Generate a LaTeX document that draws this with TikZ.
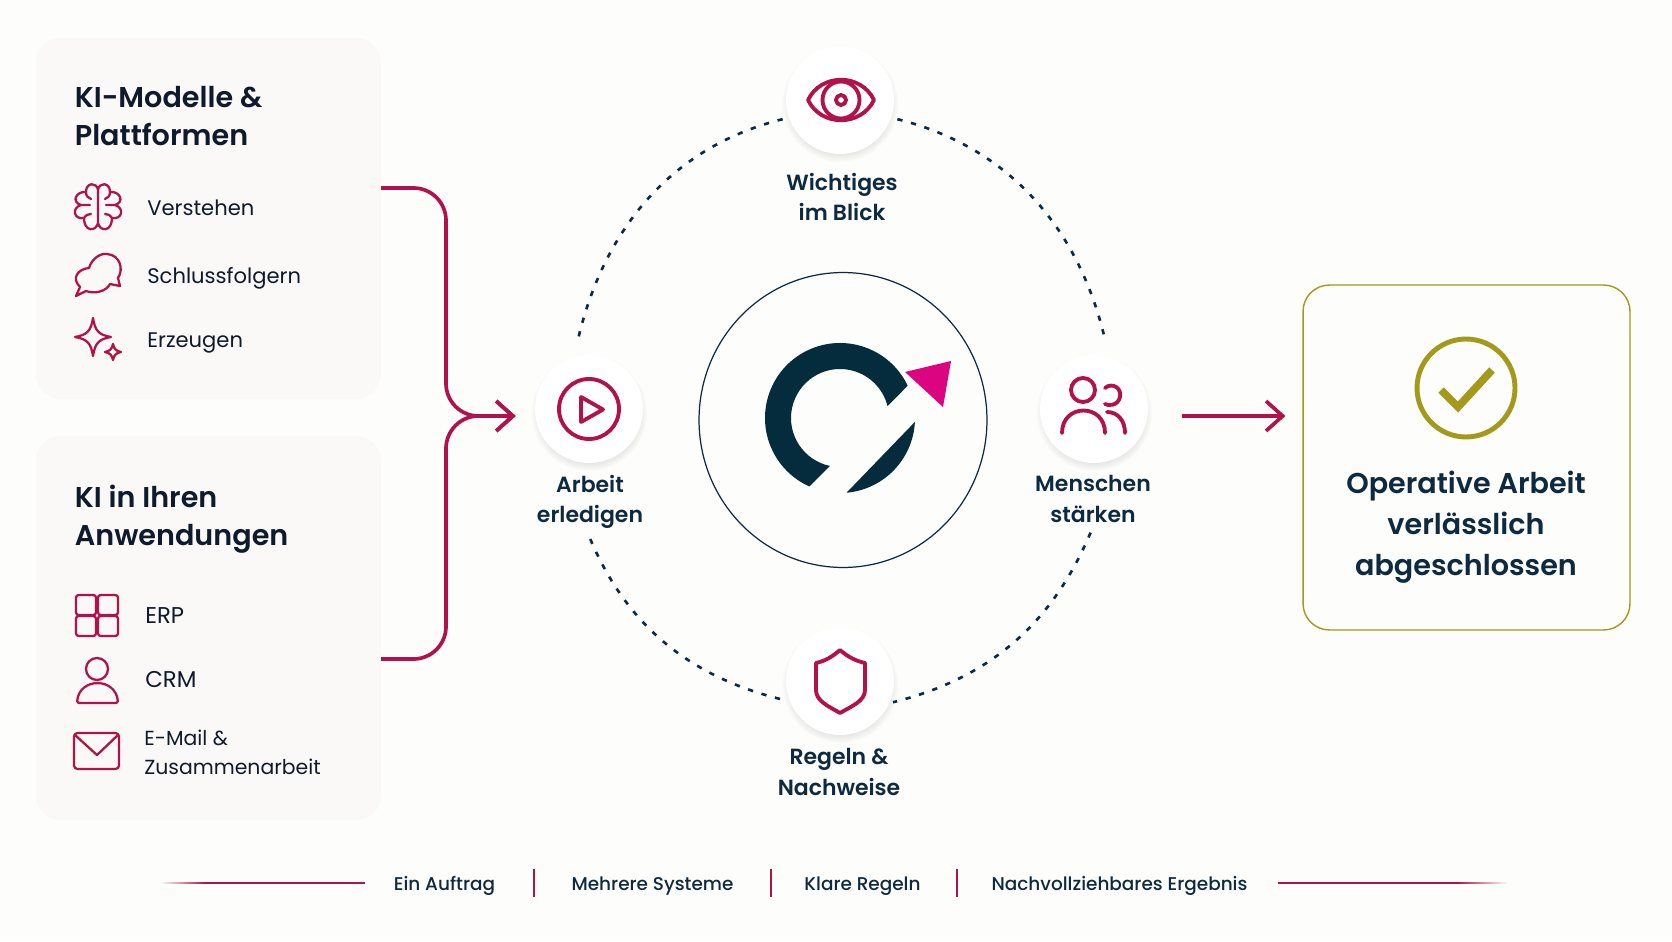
\documentclass[tikz,border=0pt]{standalone}
\usepackage{xcolor}
\usepackage{fontspec}
\usepackage{tikz}
\usetikzlibrary{arrows.meta,shadows,shapes.geometric}
\setmainfont{Poppins}
\newfontfamily\mediumfont{Poppins Medium}
\newfontfamily\strongfont{Poppins SemiBold}
\definecolor{paper}{HTML}{FDFDFC}
\definecolor{panelfill}{HTML}{FAF9F7}
\definecolor{crimson}{HTML}{B2124C}
\definecolor{navy}{HTML}{0E2A40}
\definecolor{ink}{HTML}{0F1B2D}
\definecolor{logoink}{HTML}{042C3C}
\definecolor{logopink}{HTML}{DC0480}
\definecolor{olive}{HTML}{A39A1C}
\pgfdeclarehorizontalshading{fadeleft}{100bp}{color(0bp)=(paper); color(25bp)=(paper); color(36bp)=(crimson); color(100bp)=(crimson)}
\pgfdeclarehorizontalshading{faderight}{100bp}{color(0bp)=(crimson); color(64bp)=(crimson); color(75bp)=(paper); color(100bp)=(paper)}

\begin{document}
\begin{tikzpicture}[
	x=0.02cm,
	y=0.02cm,
	panel/.style={
		fill=panelfill,
		rounded corners=14pt,
		minimum width=6.9cm,
		inner sep=0pt
	},
	heading/.style={
		anchor=west,
		align=left,
		inner sep=0pt,
		text=ink,
		font=\strongfont\fontsize{16.3}{21.8}\selectfont
	},
	item/.style={
		anchor=west,
		align=left,
		inner sep=0pt,
		text=ink,
		font=\fontsize{12}{15.5}\selectfont
	},
	hub/.style={
		circle,
		fill=white,
		minimum size=2.16cm,
		inner sep=0pt,
		circular drop shadow={shadow xshift=0pt,shadow yshift=-2pt,shadow scale=1.08,opacity=.18}
	},
	hublabel/.style={
		align=center,
		inner sep=0pt,
		text=navy,
		font=\strongfont\fontsize{12.5}{17.5}\selectfont
	},
	strip/.style={
		inner sep=0pt,
		text=navy,
		font=\mediumfont\fontsize{10.5}{13}\selectfont
	},
	divider/.style={
		fill=crimson,
		inner sep=0pt,
		minimum width=1.2pt,
		minimum height=0.56cm
	},
	rulefade/.style={
		inner sep=0pt,
		minimum height=0.035cm
	},
	link/.style={
		draw=crimson,
		line width=2.1pt,
		-{Straight Barb[length=9.5pt,width=17pt]}
	},
	orbit/.style={
		draw=navy,
		line width=1.5pt,
		dash pattern=on 3pt off 5pt
	},
	iconsmall/.style={
		draw=crimson,
		line width=1.3pt,
		line join=round,
		line cap=round
	},
	iconhub/.style={
		draw=crimson,
		line width=2.2pt,
		line join=round,
		line cap=round
	}
	]
	
	\useasboundingbox (0,0) rectangle (1672,941);
	\fill[paper] (0,0) rectangle (1672,941);
	
	% Left panels
	\node[panel,minimum height=7.22cm] (panelmodels) at (208.5,722.5) {};
	\node[panel,minimum height=7.68cm] (panelapps) at (208.5,313) {};
	
	\node[heading] (headmodels) at (74.5,825) {KI-Modelle \&\\Plattformen};
	\node[item] (itemverstehen) at (147,733) {Verstehen};
	\node[item] (itemschluss) at (147,663) {Schlussfolgern};
	\node[item] (itemerzeugen) at (147,598) {Erzeugen};
	
	\node[heading] (headapps) at (74.5,422) {KI in Ihren\\Anwendungen};
	\node[item,font=\fontsize{13}{16}\selectfont] (itemerp) at (145,325) {ERP};
	\node[item,font=\fontsize{13}{16}\selectfont] (itemcrm) at (145,261) {CRM};
	\node[item,font=\fontsize{11.6}{16.4}\selectfont] (itemmail) at (144,189) {E-Mail \&\\Zusammenarbeit};
	
	% Panel icons
	\draw[iconsmall,shift={(98,734)}]
		(0,17) -- (0,-16)
		(0,17) .. controls (-1,25) and (-12,25) .. (-12,15)
		.. controls (-22,16) and (-27,5) .. (-17,2)
		.. controls (-27,-1) and (-24,-13) .. (-14,-11)
		.. controls (-14,-25) and (-2,-25) .. (0,-16)
		(-12,15) .. controls (-12,11) and (-10,9) .. (-7,8)
		(-17,2) -- (-8,2)
		(-14,-11) .. controls (-12,-8) and (-10,-7) .. (-7,-7)
		(0,17) .. controls (1,25) and (12,25) .. (12,15)
		.. controls (22,16) and (27,5) .. (17,2)
		.. controls (27,-1) and (24,-13) .. (14,-11)
		.. controls (14,-25) and (2,-25) .. (0,-16)
		(12,15) .. controls (12,11) and (10,9) .. (7,8)
		(17,2) -- (8,2)
		(14,-11) .. controls (12,-8) and (10,-7) .. (7,-7);
	\draw[iconsmall,shift={(98,666)}]
		(-22,-21) -- (-18,-12) .. controls (-27,-3) and (-20,6) .. (-9,7)
		.. controls (-6,17) and (3,22) .. (9,21) .. controls (22,20) and (26,6) .. (20,-3)
		-- (22,-11) -- (12,-9) .. controls (8,-17) and (-4,-19) .. (-12,-16) -- cycle;
	\draw[iconsmall,shift={(93,604)}]
		(0,19) .. controls (2,6) and (6,2) .. (18,0) .. controls (6,-2) and (2,-6) .. (0,-19)
		.. controls (-2,-6) and (-6,-2) .. (-18,0) .. controls (-6,2) and (-2,6) .. (0,19) -- cycle;
	\draw[iconsmall,shift={(113,589)}]
		(0,8) .. controls (1,3) and (3,1) .. (8,0) .. controls (3,-1) and (1,-3) .. (0,-8)
		.. controls (-1,-3) and (-3,-1) .. (-8,0) .. controls (-3,1) and (-1,3) .. (0,8) -- cycle;
	\draw[iconsmall,rounded corners=1.5pt]
		(76,326) rectangle (96,346) (98,326) rectangle (118,346)
		(76,305) rectangle (96,325) (98,305) rectangle (118,325);
	\draw[iconsmall] (97,272) circle[radius=11];
	\draw[iconsmall,rounded corners=1pt]
		(77,238) .. controls (79,264) and (116,264) .. (118,238) -- cycle;
	\draw[iconsmall,rounded corners=2pt] (74,172) rectangle (119,208);
	\draw[iconsmall] (75,206) -- (97,186) -- (118,206);
	
	% Centre
	\node[ellipse,draw=navy,line width=0.7pt,minimum width=5.76cm,minimum height=5.9cm,inner sep=0pt] (corering) at (843,521) {};
	\coordinate (logocenter) at (840,523);
	\fill[logoink] ([shift={(25.5:75)}]logocenter) arc[start angle=25.5,end angle=245.9,radius=75]
		-- ([shift={(258.2:49)}]logocenter) arc[start angle=258.2,end angle=14,radius=49] -- cycle;
	\fill[logoink] ([shift={(-3:75)}]logocenter) arc[start angle=-3,end angle=-85,radius=75] -- cycle;
	\fill[logopink] (905,569) -- (951,580) -- (943,534) -- cycle;
	
	% Four hubs
	\node[hub] (eyehub) at (840,841) {};
	\node[hub] (playhub) at (589,532) {};
	\node[hub] (peoplehub) at (1094,532) {};
	\node[hub] (shieldhub) at (840,260) {};
	
	\node[hublabel] (eyelabel) at (842,744) {Wichtiges\\im Blick};
	\node[hublabel] (playlabel) at (590,439) {Arbeit\\erledigen};
	\node[hublabel] (peoplelabel) at (1093,442) {Menschen\\stärken};
	\node[hublabel] (shieldlabel) at (839,169) {Regeln \&\\Nachweise};
	
	% Hub icons
	\draw[iconhub,shift={(841,841)}]
		(-33,0) .. controls (-20,-27) and (20,-27) .. (33,0) .. controls (20,27) and (-20,27) .. (-33,0) -- cycle;
	\draw[iconhub] (841,841) circle[radius=18.5];
	\draw[iconhub] (841,841) circle[radius=5];
	\draw[iconhub] (589,532) circle[radius=30];
	\draw[iconhub] (581,544) -- (603,531.5) -- (581,519) -- cycle;
	\draw[iconhub] (1083,551) circle[radius=12];
	\draw[iconhub] (1062,508) .. controls (1062,538) and (1105,538) .. (1105,508);
	\draw[iconhub] (1105,553) .. controls (1112,559) and (1122,553) .. (1120,544) .. controls (1118,535) and (1108,535) .. (1105,537);
	\draw[iconhub] (1107,529) .. controls (1118,529) and (1125,520) .. (1125,508);
	\draw[iconhub] (840,291) .. controls (848,284) and (856,280) .. (865,278) -- (865,251)
		.. controls (865,240) and (852,235) .. (840,228)
		.. controls (828,235) and (816,240) .. (816,251) -- (816,278) .. controls (825,280) and (832,284) .. (840,291) -- cycle;
	
	% Dashed ring
	\draw[orbit,shorten <=3.5pt,shorten >=9.5pt] (eyehub.199) to[out=194,in=77] (playhub.106);
	\draw[orbit,shorten <=3.5pt,shorten >=9.5pt] (eyehub.-19) to[out=-14,in=103] (peoplehub.74);
	\draw[orbit,shorten <=6pt,shorten >=5pt] (playlabel.-98) to[out=-67,in=166] (shieldhub.202);
	\draw[orbit,shorten <=6pt,shorten >=2pt] (peoplelabel.-86) to[out=247,in=14] (shieldhub.-24);
	
	% Arrows
	\coordinate (flowrow) at (0,525);
	\coordinate (bracketa) at (381,753);
	\coordinate (bracketb) at (381,282);
	\draw[link,rounded corners=18.5pt,shorten >=10.8pt] (bracketa) -- (446,753) -- (446,525) -- (playhub.west |- flowrow);
	\draw[link,rounded corners=18.5pt,shorten >=10.8pt] (bracketb) -- (446,282) -- (446,525) -- (playhub.west |- flowrow);
	
	% Result
	\node[draw=olive,line width=0.8pt,fill=paper,rounded corners=15pt,minimum width=6.54cm,minimum height=6.9cm,inner sep=0pt] (resultbox) at (1466.5,483.5) {};
	\node[circle,draw=olive,line width=2.8pt,minimum size=1.96cm,inner sep=0pt] (checkring) at (1466,553) {};
	\draw[draw=olive,line width=4.4pt] (1441,551) -- (1458,534) -- (1492,571);
	\node[align=center,inner sep=0pt,text=navy,font=\strongfont\fontsize{16.3}{23.3}\selectfont] (resultlabel) at (1466,414)
	{Operative Arbeit\\verlässlich\\abgeschlossen};
	\draw[link,shorten <=19pt,shorten >=9.6pt] (peoplehub.east |- flowrow) -- (resultbox.west |- flowrow);
	
	% Bottom strip
	\node[rulefade,minimum width=4.1cm,shading=fadeleft] (ruleleft) at (262.5,58) {};
	\node[strip] (stripauftrag) at (444.5,55) {Ein Auftrag};
	\node[divider] (dividera) at (534,58) {};
	\node[strip] (stripsysteme) at (652.5,55) {Mehrere Systeme};
	\node[divider] (dividerb) at (771,58) {};
	\node[strip] (stripregeln) at (862.5,55) {Klare Regeln};
	\node[divider] (dividerc) at (957,58) {};
	\node[strip] (stripergebnis) at (1119.5,55) {Nachvollziehbares Ergebnis};
	\node[rulefade,minimum width=4.6cm,shading=faderight] (ruleright) at (1393,58) {};
	
\end{tikzpicture}
\end{document}
